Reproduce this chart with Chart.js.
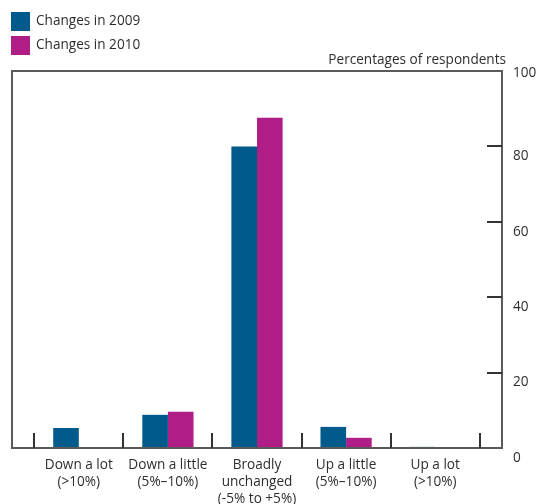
<!DOCTYPE html>
<html>
<head>
<meta charset="utf-8">
<script src="https://cdn.jsdelivr.net/npm/chart.js@4/dist/chart.umd.min.js"></script>
<style>
  html, body { margin: 0; padding: 0; background: #ffffff; }
  #wrap { width: 539px; height: 504px; }
</style>
</head>
<body>
<div id="wrap"><canvas id="c" width="539" height="504"></canvas></div>
<script>
// Survey responses: change in the measured quantity, by band
const categories = [
  ['Down a lot', '(>10%)'],
  ['Down a little', '(5%–10%)'],
  ['Broadly', 'unchanged', '(-5% to +5%)'],
  ['Up a little', '(5%–10%)'],
  ['Up a lot', '(>10%)']
];
const seriesNames = ['Changes in 2009', 'Changes in 2010'];
const changes2009 = [5.3, 8.8, 80, 5.6, 0.3];
const changes2010 = [0, 9.6, 87.6, 2.7, 0];
const yTicks = [0, 20, 40, 60, 80, 100];
const unitLabel = 'Percentages of respondents';

const COLORS = ['#005a8c', '#af1e87'];
const FONT = '"Open Sans", "Noto Sans", sans-serif';
const FONT_SIZE = 13.6;
const TEXT = '#2e2e2e';

function points(values) {
  return values.map((v, i) => ({ x: i, y: v }));
}

// Frame, inward tick marks, y labels, legend and unit label
const framePlugin = {
  id: 'frame',
  afterDatasetsDraw(chart) {
    const ctx = chart.ctx;
    const a = chart.chartArea;
    const xs = chart.scales.x;
    const ys = chart.scales.y;
    ctx.save();
    // box around the plot
    ctx.strokeStyle = '#5a5a5a';
    ctx.lineWidth = 2;
    ctx.strokeRect(a.left, a.top, a.right - a.left, a.bottom - a.top);
    // category boundary ticks on the bottom axis
    ctx.strokeStyle = '#333333';
    ctx.beginPath();
    for (let i = 0; i <= categories.length; i++) {
      const px = Math.round(xs.getPixelForValue(i - 0.5));
      ctx.moveTo(px, a.bottom);
      ctx.lineTo(px, a.bottom - 15);
    }
    // value ticks on the right axis
    yTicks.forEach(t => {
      if (t === ys.min || t === ys.max) return;
      const py = Math.round(ys.getPixelForValue(t));
      ctx.moveTo(a.right, py);
      ctx.lineTo(a.right - 15, py);
    });
    ctx.stroke();
    ctx.restore();
  },
  afterDraw(chart) {
    const ctx = chart.ctx;
    const a = chart.chartArea;
    const ys = chart.scales.y;
    ctx.save();
    ctx.fillStyle = TEXT;
    ctx.font = FONT_SIZE + 'px ' + FONT;
    ctx.textBaseline = 'middle';
    // right-hand tick labels
    ctx.textAlign = 'left';
    yTicks.forEach(t => {
      const py = ys.getPixelForValue(t) + (t === ys.max ? 2 : 10);
      ctx.fillText(String(t), a.right + 11, py);
    });
    // unit label above the axis
    ctx.textAlign = 'right';
    ctx.fillText(unitLabel, a.right + 4, a.top - 11);
    // legend
    ctx.textAlign = 'left';
    chart.data.datasets.forEach((ds, i) => {
      const top = 12 + i * 24;
      ctx.fillStyle = ds.backgroundColor;
      ctx.fillRect(11, top, 19, 19);
      ctx.fillStyle = TEXT;
      ctx.fillText(ds.label, 36, top + 9.5);
    });
    ctx.restore();
  }
};

new Chart(document.getElementById('c'), {
  type: 'bar',
  data: {
    datasets: [
      { label: seriesNames[0], data: points(changes2009), backgroundColor: COLORS[0] },
      { label: seriesNames[1], data: points(changes2010), backgroundColor: COLORS[1] }
    ]
  },
  options: {
    responsive: false,
    devicePixelRatio: 1,
    animation: false,
    categoryPercentage: 0.575,
    barPercentage: 1,
    borderWidth: 0,
    layout: { padding: { top: 71, left: 12, right: 0, bottom: 0 } },
    plugins: {
      legend: { display: false },
      title: { display: false },
      tooltip: { enabled: false }
    },
    scales: {
      x: {
        type: 'linear',
        offset: false,
        min: -0.75,
        max: categories.length - 0.25,
        grid: { display: false },
        border: { display: false },
        afterBuildTicks(scale) {
          scale.ticks = categories.map((_, i) => ({ value: i }));
        },
        afterFit(scale) { scale.height = 56; },
        ticks: {
          autoSkip: false,
          maxRotation: 0,
          minRotation: 0,
          padding: 1,
          color: TEXT,
          font: { family: FONT, size: FONT_SIZE, lineHeight: 1.25 },
          callback: (v) => categories[v]
        }
      },
      y: {
        type: 'linear',
        position: 'right',
        min: 0,
        max: 100,
        grid: { display: false },
        border: { display: false },
        afterBuildTicks(scale) {
          scale.ticks = yTicks.map(v => ({ value: v }));
        },
        afterFit(scale) { scale.width = 37; },
        ticks: { display: false }
      }
    }
  },
  plugins: [framePlugin]
});
</script>
</body>
</html>
